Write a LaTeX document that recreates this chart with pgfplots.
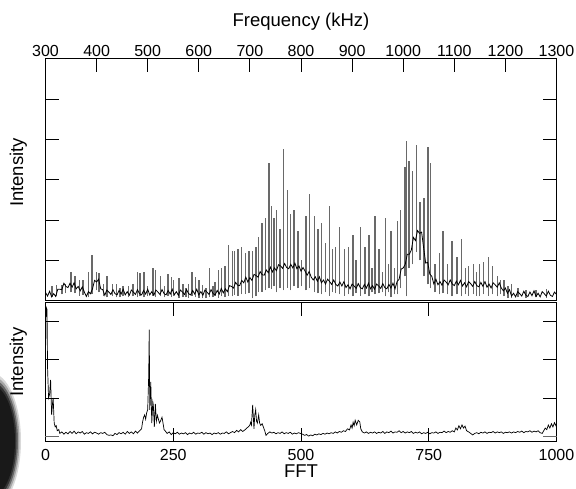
\documentclass[border=0pt]{standalone}
\usepackage{fontspec}
\setmainfont{Liberation Sans}
\usepackage{pgfplots}
\pgfplotsset{compat=1.18}
\usepackage{pgfplotstable}
\definecolor{spikegray}{RGB}{105,105,105}

\pgfplotstableread{
x y
300 0.20
304 0.11
308 0.23
312 0.09
316 0.17
320 0.10
324 0.28
328 0.28
332 0.27
336 0.43
340 0.35
344 0.32
348 0.43
352 0.33
356 0.44
360 0.29
364 0.35
368 0.24
372 0.34
376 0.21
380 0.10
384 0.22
388 0.17
392 0.29
396 0.50
400 0.46
404 0.53
408 0.29
412 0.27
416 0.13
420 0.26
424 0.21
428 0.15
432 0.27
436 0.17
440 0.14
444 0.25
448 0.16
452 0.28
456 0.14
460 0.22
464 0.13
468 0.26
472 0.21
476 0.15
480 0.27
484 0.17
488 0.14
492 0.25
496 0.16
500 0.28
504 0.14
508 0.22
512 0.13
516 0.26
520 0.21
524 0.15
528 0.27
532 0.17
536 0.14
540 0.25
544 0.16
548 0.28
552 0.14
556 0.22
560 0.13
564 0.26
568 0.21
572 0.15
576 0.27
580 0.17
584 0.14
588 0.25
592 0.16
596 0.28
600 0.14
604 0.22
608 0.13
612 0.26
616 0.21
620 0.15
624 0.27
628 0.17
632 0.14
636 0.25
640 0.16
644 0.30
648 0.19
652 0.29
656 0.22
660 0.37
664 0.35
668 0.31
672 0.45
676 0.38
680 0.37
684 0.50
688 0.44
692 0.58
696 0.46
700 0.57
704 0.50
708 0.65
712 0.62
716 0.58
720 0.72
724 0.64
728 0.63
732 0.76
736 0.69
740 0.83
744 0.71
748 0.81
752 0.74
756 0.89
760 0.86
764 0.80
768 0.92
772 0.82
776 0.79
780 0.90
784 0.81
788 0.93
792 0.79
796 0.86
800 0.73
804 0.82
808 0.73
812 0.63
816 0.72
820 0.58
824 0.51
828 0.59
832 0.48
836 0.59
840 0.44
844 0.51
848 0.41
852 0.53
856 0.47
860 0.40
864 0.51
868 0.40
872 0.36
876 0.46
880 0.36
884 0.47
888 0.32
892 0.39
896 0.29
900 0.41
904 0.36
908 0.30
912 0.42
916 0.32
920 0.29
924 0.40
928 0.31
932 0.43
936 0.29
940 0.37
944 0.28
948 0.41
952 0.36
956 0.30
960 0.42
964 0.32
968 0.29
972 0.40
976 0.31
980 0.43
984 0.29
988 0.47
992 0.53
996 0.78
1000 0.81
1004 0.90
1008 1.15
1012 1.15
1016 1.26
1020 1.57
1024 1.49
1028 1.74
1032 1.67
1036 1.70
1040 1.31
1044 0.93
1048 0.95
1052 0.66
1056 0.60
1060 0.41
1064 0.53
1068 0.39
1072 0.47
1076 0.38
1080 0.51
1084 0.46
1088 0.39
1092 0.51
1096 0.41
1100 0.37
1104 0.48
1108 0.39
1112 0.50
1116 0.36
1120 0.44
1124 0.34
1128 0.47
1132 0.42
1136 0.35
1140 0.47
1144 0.37
1148 0.34
1152 0.45
1156 0.35
1160 0.47
1164 0.33
1168 0.41
1172 0.31
1176 0.44
1180 0.39
1184 0.33
1188 0.44
1192 0.31
1196 0.24
1200 0.31
1204 0.18
1208 0.27
1212 0.11
1216 0.18
1220 0.09
1224 0.22
1228 0.17
1232 0.11
1236 0.23
1240 0.13
1244 0.10
1248 0.21
1252 0.12
1256 0.24
1260 0.10
1264 0.18
1268 0.09
1272 0.22
1276 0.17
1280 0.11
1284 0.23
1288 0.13
1292 0.10
1296 0.21
1300 0.15
}\toptrace

\pgfplotstableread{
x lo hi
313 0.08 0.37
322 0.10 0.38
332 0.15 0.38
339 0.18 0.42
350 0.20 0.72
358 0.18 0.60
367 0.12 0.50
373 0.14 0.50
384 0.08 0.70
391 0.15 1.12
400 0.25 0.70
405 0.20 0.68
413 0.10 0.40
420 0.08 0.62
431 0.10 0.40
439 0.08 0.40
446 0.08 0.30
452 0.10 0.35
462 0.08 0.35
471 0.10 0.42
480 0.08 0.70
485 0.10 0.68
493 0.08 0.70
500 0.10 0.35
510 0.12 0.82
515 0.08 0.75
525 0.10 0.62
533 0.08 0.35
540 0.10 0.65
546 0.08 0.58
550 0.10 0.50
561 0.06 0.55
569 0.08 0.42
575 0.08 0.30
580 0.06 0.42
587 0.10 0.70
593 0.08 0.58
600 0.06 0.50
607 0.05 0.38
614 0.06 0.32
621 0.08 0.80
628 0.08 0.35
632 0.10 0.45
639 0.06 0.77
645 0.10 0.82
651 0.08 0.87
658 0.12 1.39
666 0.10 1.24
670 0.14 1.24
677 0.12 1.29
684 0.15 1.34
691 0.16 1.19
698 0.18 1.22
705 0.05 1.24
712 0.10 1.34
717 0.20 1.59
724 0.22 1.94
730 0.25 2.06
737 0.30 3.43
742 0.28 2.36
747 0.35 2.04
752 0.20 2.24
759 0.30 1.79
766 0.25 3.76
774 0.32 2.76
779 0.25 2.16
786 0.35 2.24
794 0.30 1.72
801 0.35 1.00
810 0.25 2.09
817 0.30 2.66
827 0.20 2.09
833 0.18 1.79
840 0.15 1.94
848 0.20 1.44
856 0.12 2.36
862 0.20 1.27
867 0.18 1.32
875 0.15 1.84
885 0.12 1.29
893 0.15 1.34
902 0.10 1.62
908 0.18 1.00
916 0.12 1.84
925 0.15 1.32
933 0.10 1.62
939 0.20 0.80
945 0.15 2.11
953 0.18 1.27
959 0.20 0.70
965 0.10 2.06
971 0.20 0.90
976 0.08 1.72
983 0.15 0.80
989 0.15 1.97
995 0.30 2.26
1003.5 0.60 3.31
1006 0.10 3.96
1011 0.80 3.46
1018.5 0.90 3.21
1026 1.20 3.88
1033 1.00 2.44
1041 0.60 2.54
1048.5 0.40 3.81
1054 0.30 3.43
1062 0.20 0.90
1071 0.15 1.17
1078 0.18 1.72
1087 0.15 0.90
1095.5 0.10 1.47
1105 0.15 1.09
1114.5 0.10 1.52
1122 0.15 0.80
1128 0.12 0.85
1137 0.15 0.92
1143 0.12 0.70
1149 0.10 0.90
1157 0.15 0.95
1166.5 0.12 1.07
1175 0.15 0.85
1185 0.10 0.62
1190 0.15 0.50
1197 0.10 0.52
1205 0.06 0.35
1212 0.05 0.40
1225 0.08 0.30
1240 0.06 0.25
1260 0.08 0.25
1280 0.06 0.28
}\spikes

\pgfplotstableread{
x y
0 2.2
1 3.37
3 3.3
4 1.8
6 1.0
8 1.1
10 1.47
12 0.56
14 0.9
15 1.0
17 0.35
19 0.25
21 0.28
23 0.15
26 0.18
28 0.08
32 0.12
36 0.06
40 0.11
44 0.07
48 0.13
52 0.08
56 0.14
60 0.07
64 0.12
68 0.09
72 0.13
76 0.06
80 0.10
84 0.08
88 0.12
92 0.07
96 0.11
100 0.09
104 0.06
108 0.10
112 0.08
116 0.11
120 0.05
124 0.03
128 0.04
132 0.02
136 0.08
140 0.05
144 0.10
148 0.07
152 0.11
156 0.06
160 0.13
164 0.08
168 0.12
172 0.07
176 0.14
180 0.09
184 0.15
188 0.20
190 0.38
192 0.50
194 0.56
196 0.45
198 0.62
200 0.70
202 1.6
203 2.78
204 0.69
206 1.42
208 0.35
210 0.9
211 0.82
213 0.25
215 0.85
217 0.40
219 0.55
221 0.45
223 0.35
225 0.40
228 0.50
230 0.35
232 0.18
234 0.15
238 0.08
242 0.12
246 0.05
250 0.10
254 0.07
258 0.11
262 0.06
266 0.09
270 0.07
274 0.10
278 0.05
282 0.09
286 0.07
290 0.11
294 0.06
298 0.09
302 0.08
306 0.11
310 0.06
314 0.10
318 0.07
322 0.09
326 0.05
330 0.09
334 0.07
338 0.10
342 0.06
346 0.09
350 0.08
354 0.12
358 0.07
362 0.10
366 0.13
370 0.10
374 0.16
378 0.12
382 0.18
386 0.13
390 0.17
394 0.22
397 0.25
400 0.30
401.5 0.37
403 0.30
405.4 0.82
408 0.20
409.5 0.55
411.3 0.70
413 0.40
414.6 0.35
417.2 0.56
419 0.35
421.1 0.29
424 0.33
426.3 0.25
429 0.15
431.5 0.03
435 0.08
439 0.12
443 0.09
447 0.11
451 0.07
455 0.10
459 0.08
463 0.12
467 0.07
471 0.10
475 0.08
479 0.11
483 0.06
487 0.09
491 0.07
495 0.10
499 0.08
503 0.06
507 0.03
511 0.05
515 0.01
519 0.04
523 0.02
527 0.06
531 0.04
535 0.07
539 0.05
543 0.08
547 0.06
551 0.09
555 0.07
559 0.10
563 0.08
567 0.12
571 0.09
575 0.13
579 0.11
583 0.15
587 0.13
591 0.20
595 0.17
598 0.30
600 0.22
602 0.37
604 0.28
606 0.42
609 0.30
612 0.42
615 0.38
617 0.20
620 0.12
624 0.09
628 0.12
632 0.08
636 0.11
640 0.09
644 0.12
648 0.08
652 0.11
656 0.09
660 0.13
664 0.08
668 0.12
672 0.10
676 0.14
680 0.09
684 0.12
688 0.11
692 0.15
696 0.10
700 0.13
704 0.09
708 0.12
712 0.10
716 0.13
720 0.08
724 0.11
728 0.09
732 0.12
736 0.07
740 0.10
744 0.08
748 0.11
752 0.07
756 0.10
760 0.09
764 0.12
768 0.08
772 0.11
776 0.10
780 0.14
784 0.10
788 0.13
792 0.11
796 0.15
800 0.12
803 0.22
806 0.17
809 0.28
812 0.20
815 0.30
818 0.22
821 0.27
824 0.15
828 0.12
832 0.08
836 0.04
840 0.08
844 0.10
848 0.07
852 0.11
856 0.09
860 0.12
864 0.08
868 0.11
872 0.10
876 0.13
880 0.09
884 0.12
888 0.10
892 0.12
896 0.08
900 0.11
904 0.10
908 0.12
912 0.09
916 0.12
920 0.10
924 0.13
928 0.11
932 0.14
936 0.10
940 0.13
944 0.12
948 0.15
952 0.11
956 0.14
960 0.12
964 0.15
968 0.10
972 0.08
975 0.15
978 0.22
981 0.18
984 0.30
987 0.22
990 0.33
993 0.25
996 0.36
999 0.28
1000 0.34
}\fft

\pgfplotsset{
  common/.style={
    scale only axis,
    width=511pt,
    axis line style={line width=1pt},
    every tick/.style={line width=1pt, black},
    major tick length=14pt,
    tick align=inside,
    /pgf/number format/assume math mode=true,
    /pgf/number format/1000 sep={},
    tick label style={font=\fontsize{16}{18}\selectfont},
    label style={font=\fontsize{18.5}{21}\selectfont},
    yticklabels={},
    ytick pos=both,
  }
}

\begin{document}
\begin{tikzpicture}[x=1pt,y=1pt]
\useasboundingbox (0,0) rectangle (576,489);
\begin{scope}
\clip (0,0) rectangle (576,489);
\fill[black!15] (-9,48) ellipse [x radius=30, y radius=68];
\fill[black!35] (-9,48) ellipse [x radius=28.5, y radius=65];
\fill[black!60] (-9,48) ellipse [x radius=27, y radius=62];
\fill[black!80] (-9,48) ellipse [x radius=25.5, y radius=59];
\fill[black!90] (-9,48) ellipse [x radius=24, y radius=56];
\end{scope}

\begin{axis}[common,
  at={(45.5pt,188.5pt)}, anchor=south west,
  height=242pt,
  xmin=300, xmax=1300, ymin=0, ymax=6.02,
  xtick={300,400,...,1300},
  xtick pos=right, xticklabel pos=right,
  xticklabel style={yshift=-2pt},
  ytick={1,2,3,4,5},
  xlabel={Frequency (kHz)},
  xlabel style={at={(axis description cs:0.5,1)}, anchor=center, yshift=37pt},
  ylabel={Intensity},
  ylabel style={at={(axis description cs:-0.053,0.529)}, anchor=center},
]
\addplot[draw=none, mark=none, forget plot, line width=1.4pt,
  error bars/.cd, y dir=plus, y explicit, error mark=none,
  error bar style={draw=spikegray, line width=1.4pt, solid}]
  table[x=x, y=lo, y error expr=\thisrow{hi}-\thisrow{lo}] {\spikes};
\addplot[black, line width=0.8pt, mark=none] table[x=x, y=y] {\toptrace};
\end{axis}

\begin{axis}[common,
  at={(45.5pt,47.3pt)}, anchor=south west,
  height=139.5pt,
  xmin=0, xmax=1000, ymin=-0.135, ymax=3.49,
  xtick={0,250,500,750,1000},
  xtick pos=both, xticklabel pos=left,
  xticklabel style={yshift=-4pt},
  ytick={1,2,3},
  extra y ticks={0},
  extra y tick labels={},
  extra y tick style={every tick/.style={line width=1pt, spikegray}},
  xlabel={FFT},
  xlabel style={at={(axis description cs:0.5,0)}, anchor=center, yshift=-29pt},
  ylabel={Intensity},
  ylabel style={at={(axis description cs:-0.053,0.57)}, anchor=center},
]
\addplot[black, line width=0.7pt, mark=none] table[x=x, y=y] {\fft};
\end{axis}
\end{tikzpicture}
\end{document}
